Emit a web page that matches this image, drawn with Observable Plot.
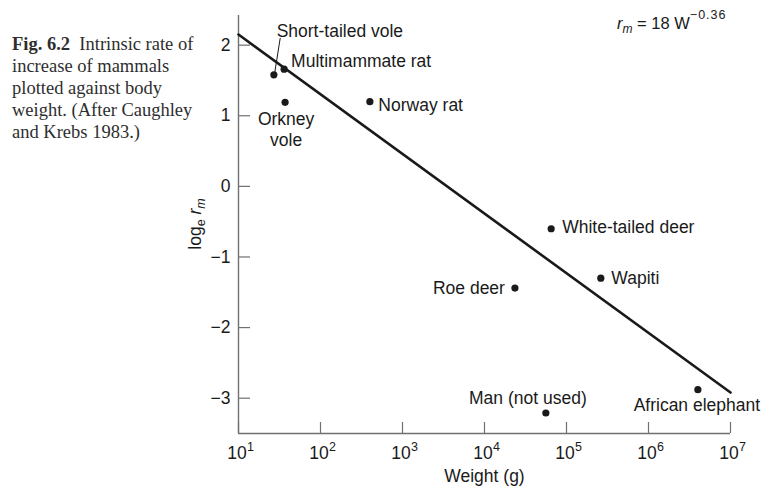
<!DOCTYPE html>
<html>
<head>
<meta charset="utf-8">
<script src="https://cdn.jsdelivr.net/npm/d3@7"></script>
<script src="https://cdn.jsdelivr.net/npm/@observablehq/plot@0.6"></script>
<style>
  body { margin: 0; background: #fff; }
  #wrap { position: relative; width: 776px; height: 489px; overflow: hidden; background: #fff; }
  #wrap svg { position: absolute; left: 0; top: 0; }
  #caption {
    position: absolute; left: 12px; top: 32.7px; z-index: 2;
    font-family: "Liberation Serif", "Times New Roman", serif;
    font-size: 18.5px; line-height: 22.1px; color: #2e2e2e; white-space: nowrap;
  }
  #caption b { font-weight: bold; }
</style>
</head>
<body>
<div id="wrap">
  <div id="caption"><b>Fig. 6.2</b>&nbsp; Intrinsic rate of<br>increase of mammals<br>plotted against body<br>weight. (After Caughley<br>and Krebs 1983.)</div>
</div>
<script>
// ---- data ----
const names   = ["Short-tailed vole", "Multimammate rat", "Orkney vole", "Norway rat",
                 "White-tailed deer", "Wapiti", "Roe deer", "Man (not used)", "African elephant"];
const weights = [27, 36, 37, 400, 65000, 262000, 23500, 56000, 4000000];   // g
const rates   = [1.58, 1.66, 1.19, 1.20, -0.60, -1.30, -1.44, -3.21, -2.88]; // log_e r_m

const fitWeights = [10, 1e7];
const fitRates   = [2.15, -2.92];

const yTicks = [2, 1, 0, -1, -2, -3];
const xTicks = [1e1, 1e2, 1e3, 1e4, 1e5, 1e6, 1e7];
const xTickExponents = ["1", "2", "3", "4", "5", "6", "7"];

// ---- label layout (placement only) ----
const labelLayout = [
  {name: "Short-tailed vole", anchor: "middle", dx: 66,  dy: -38, wrap: false},
  {name: "Multimammate rat",  anchor: "start",  dx: 7,   dy: -2,  wrap: false},
  {name: "Orkney vole",       anchor: "middle", dx: 1,   dy: 44,  wrap: true},
  {name: "Norway rat",        anchor: "start",  dx: 8.5, dy: 9.5, wrap: false},
  {name: "White-tailed deer", anchor: "start",  dx: 11,  dy: 4,   wrap: false},
  {name: "Wapiti",            anchor: "start",  dx: 10.5,dy: 6,   wrap: false},
  {name: "Roe deer",          anchor: "end",    dx: -10, dy: 5.5, wrap: false},
  {name: "Man (not used)",    anchor: "middle", dx: -18, dy: -9,  wrap: false},
  {name: "African elephant",  anchor: "middle", dx: -1,  dy: 21.5,wrap: false}
];

const data = names.map((name, i) => ({name, weight: weights[i], rate: rates[i]}));
const fit = fitWeights.map((w, i) => ({weight: w, rate: fitRates[i]}));

const font = "'Liberation Sans', Arial, Helvetica, sans-serif";
const ink = "#1a1a1a";
const axisGray = "#707070";
const fs = 17.5;

const W = 776, H = 489, ML = 238, MR = 46, MT = 15, MB = 56;
const plotW = W - ML - MR, plotH = H - MT - MB;

const labelMarks = labelLayout.map(l =>
  Plot.text(data.filter(d => d.name === l.name), {
    x: "weight", y: "rate",
    text: d => l.wrap ? d.name.replace(" ", "\n") : d.name,
    textAnchor: l.anchor, lineAnchor: "bottom", lineHeight: 1.22,
    dx: l.dx, dy: l.dy, fontSize: fs, fill: ink
  })
);

const chart = Plot.plot({
  width: W, height: H,
  marginLeft: ML, marginRight: MR, marginTop: MT, marginBottom: MB,
  style: {fontFamily: font, fontSize: fs + "px", color: ink, background: "transparent", overflow: "visible"},
  x: {type: "log", domain: [10, 1e7], axis: null},
  y: {domain: [-3.5, 2.42], axis: null},
  marks: [
    // axis lines
    Plot.ruleX([10], {stroke: axisGray, strokeWidth: 1.4}),
    Plot.ruleY([-3.5], {stroke: axisGray, strokeWidth: 1.4}),
    // inward ticks
    Plot.tickY(yTicks, {y: d => d, stroke: axisGray, strokeWidth: 1.2, insetRight: plotW - 12}),
    Plot.tickX(xTicks, {x: d => d, stroke: axisGray, strokeWidth: 1.2, insetTop: plotH - 11}),
    // y tick labels
    Plot.axisY(yTicks, {tickSize: 0, tickPadding: 8, fontSize: fs, label: null, fill: ink,
      tickFormat: d => d < 0 ? "\u2212" + Math.abs(d) : String(d)}),
    // x tick labels 10^n
    Plot.text(xTicks, {x: d => d, text: () => "10", frameAnchor: "bottom", textAnchor: "middle",
      lineAnchor: "bottom", dx: -1.5, dy: 25, fontSize: fs, fill: ink}),
    Plot.text(xTicks, {x: d => d, text: (d, i) => xTickExponents[i], frameAnchor: "bottom", textAnchor: "start",
      lineAnchor: "bottom", dx: 8.5, dy: 17, fontSize: 12.5, fill: ink}),
    // x axis title
    Plot.text(["Weight (g)"], {text: d => d, frameAnchor: "bottom", lineAnchor: "bottom", dy: 48, fontSize: fs, fill: ink}),
    // regression line
    Plot.line(fit, {x: "weight", y: "rate", stroke: ink, strokeWidth: 2.6}),
    // leader for short-tailed vole
    Plot.vector(data.filter(d => d.name === "Short-tailed vole"), {
      x: "weight", y: "rate", length: 34, rotate: 9, anchor: "start", r: 0,
      stroke: ink, strokeWidth: 1, dx: 1, dy: -3
    }),
    // points
    Plot.dot(data, {x: "weight", y: "rate", r: 3.6, fill: ink, stroke: null}),
    ...labelMarks
  ]
});

document.getElementById("wrap").appendChild(chart);

// equation and y-axis title with sub/superscripts
const svg = d3.select(chart);
const eq = svg.append("text").attr("x", 617).attr("y", 29).attr("text-anchor", "start")
  .attr("font-family", font).attr("font-size", 16.5).attr("fill", ink);
eq.append("tspan").attr("font-style", "italic").text("r");
eq.append("tspan").attr("font-style", "italic").attr("font-size", 12).attr("dy", 4).text("m");
eq.append("tspan").attr("dy", -4).text(" = 18 W");
eq.append("tspan").attr("font-size", 12.5).attr("dy", -10).attr("letter-spacing", 1).text("\u22120.36");

const yl = svg.append("text").attr("transform", "translate(201,224) rotate(-90)")
  .attr("text-anchor", "middle").attr("font-family", font).attr("font-size", fs).attr("fill", ink);
yl.append("tspan").text("log");
yl.append("tspan").attr("font-size", 12.5).attr("dy", 4).text("e");
yl.append("tspan").attr("dy", -4).text(" ");
yl.append("tspan").attr("font-style", "italic").text("r");
yl.append("tspan").attr("font-style", "italic").attr("font-size", 12.5).attr("dy", 4).text("m");
</script>
</body>
</html>
